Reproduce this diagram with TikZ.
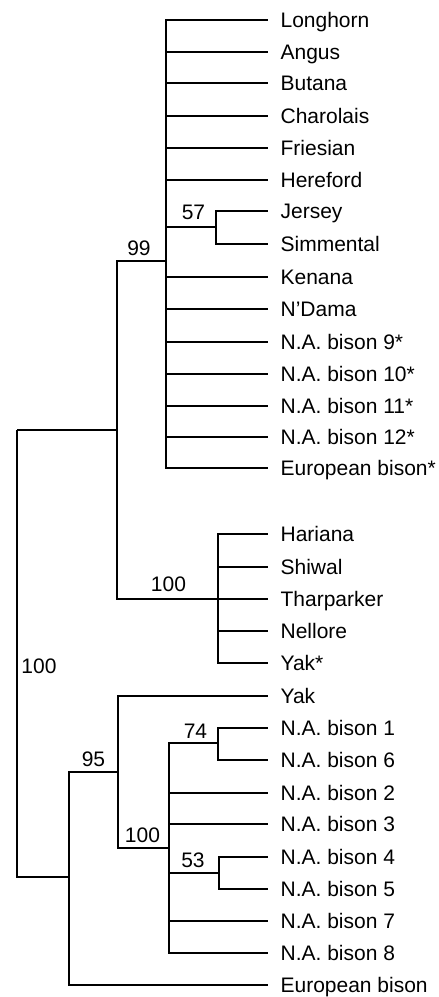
\documentclass[tikz,border=0pt]{standalone}
\usepackage{fontspec}
\setmainfont{Liberation Sans}
\begin{document}
\begin{tikzpicture}[x=1pt,y=-1pt,line width=1.2pt,
  leaf/.style={anchor=west,inner xsep=12pt,inner ysep=0pt,text height=15pt,text depth=0pt,font=\fontsize{21}{23}\selectfont},
  bs/.style={inner sep=0pt,font=\fontsize{21}{23}\selectfont},
  br/.style={draw,line join=miter}]
\useasboundingbox (0,0) rectangle (439,997);
% leaves
\node[leaf] (longhorn) at (268,20) {Longhorn};
\node[leaf] (angus) at (268,52) {Angus};
\node[leaf] (butana) at (268,83) {Butana};
\node[leaf] (charolais) at (268,116) {Charolais};
\node[leaf] (friesian) at (268,148) {Friesian};
\node[leaf] (hereford) at (268,180) {Hereford};
\node[leaf] (jersey) at (268,211) {Jersey};
\node[leaf] (simmental) at (268,244) {Simmental};
\node[leaf] (kenana) at (268,277) {Kenana};
\node[leaf] (ndama) at (268,309) {N’Dama};
\node[leaf] (na9) at (268,342) {N.A. bison 9*};
\node[leaf] (na10) at (268,374) {N.A. bison 10*};
\node[leaf] (na11) at (268,406) {N.A. bison 11*};
\node[leaf] (na12) at (268,437) {N.A. bison 12*};
\node[leaf] (eurs) at (268,468) {European bison*};
\node[leaf] (hariana) at (268,534) {Hariana};
\node[leaf] (shiwal) at (268,567) {Shiwal};
\node[leaf] (tharparker) at (268,599) {Tharparker};
\node[leaf] (nellore) at (268,631) {Nellore};
\node[leaf] (yaks) at (268,663) {Yak*};
\node[leaf] (yak) at (268,696) {Yak};
\node[leaf] (na1) at (268,728) {N.A. bison 1};
\node[leaf] (na6) at (268,760) {N.A. bison 6};
\node[leaf] (na2) at (268,793) {N.A. bison 2};
\node[leaf] (na3) at (268,824) {N.A. bison 3};
\node[leaf] (na4) at (268,857) {N.A. bison 4};
\node[leaf] (na5) at (268,889) {N.A. bison 5};
\node[leaf] (na7) at (268,921) {N.A. bison 7};
\node[leaf] (na8) at (268,953) {N.A. bison 8};
\node[leaf] (eur) at (268,985) {European bison};
% internal nodes
\coordinate (root) at (17,430);
\coordinate (b) at (117,430);
\coordinate (a99) at (166,261);
\coordinate (a57) at (216,227);
\coordinate (h100) at (218,599);
\coordinate (n95) at (69,877);
\coordinate (n100b) at (118,772);
\coordinate (n100c) at (169,848);
\coordinate (n74) at (218,743);
\coordinate (n53) at (219,873);
% branches
\path[br] (root) |- (b) (root) |- (n95);
\path[br] (b) |- (a99) (b) |- (h100);
\foreach \c in {longhorn,angus,butana,charolais,friesian,hereford,kenana,ndama,na9,na10,na11,na12,eurs}
  \path[br] (a99) |- (\c.west);
\path[br] (a99) |- (a57);
\path[br] (a57) |- (jersey.west) (a57) |- (simmental.west);
\foreach \c in {hariana,shiwal,tharparker,nellore,yaks}
  \path[br] (h100) |- (\c.west);
\path[br] (n95) |- (n100b) (n95) |- (eur.west);
\path[br] (n100b) |- (yak.west) (n100b) |- (n100c);
\path[br] (n100c) |- (n74) (n100c) |- (n53);
\foreach \c in {na2,na3,na7,na8}
  \path[br] (n100c) |- (\c.west);
\path[br] (n74) |- (na1.west) (n74) |- (na6.west);
\path[br] (n53) |- (na4.west) (n53) |- (na5.west);
% support values
\node[bs] (l99) at (139,248) {99};
\node[bs] (l57) at (193.5,212.5) {57};
\node[bs] (l100h) at (168.5,584.5) {100};
\node[bs] (l100r) at (39,666) {100};
\node[bs] (l95) at (93.5,759.5) {95};
\node[bs] (l100b) at (142.5,835) {100};
\node[bs] (l74) at (195.5,731) {74};
\node[bs] (l53) at (193,860) {53};
\end{tikzpicture}
\end{document}
